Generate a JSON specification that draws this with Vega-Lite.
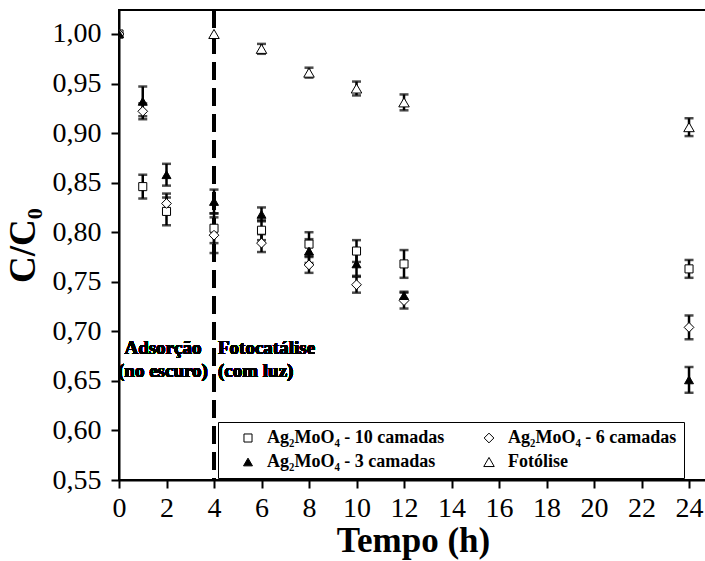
{
  "$schema": "https://vega.github.io/schema/vega-lite/v6.json",
  "autosize": "none",
  "width": 588,
  "height": 470,
  "padding": {"left": 119, "top": 10, "right": 0, "bottom": 81},
  "background": "white",
  "config": {
    "view": {"stroke": "black", "strokeWidth": 2},
    "font": "Liberation Serif",
    "axis": {
      "domainColor": "black", "domainWidth": 2, "tickColor": "black", "tickWidth": 2,
      "labelFont": "Liberation Serif", "labelColor": "black", "labelFontSize": 28,
      "titleFont": "Liberation Serif", "titleColor": "black", "titleFontSize": 35, "titleFontWeight": "bold",
      "grid": false
    }
  },
  "data": {
    "values": [
      {"t": 0, "v": 1.0, "err": 0, "s": "Ag₂MoO₄ - 10 camadas"},
      {"t": 1, "v": 0.846, "err": 0.012, "s": "Ag₂MoO₄ - 10 camadas"},
      {"t": 2, "v": 0.821, "err": 0.014, "s": "Ag₂MoO₄ - 10 camadas"},
      {"t": 4, "v": 0.804, "err": 0.015, "s": "Ag₂MoO₄ - 10 camadas"},
      {"t": 6, "v": 0.802, "err": 0.010, "s": "Ag₂MoO₄ - 10 camadas"},
      {"t": 8, "v": 0.788, "err": 0.012, "s": "Ag₂MoO₄ - 10 camadas"},
      {"t": 10, "v": 0.781, "err": 0.011, "s": "Ag₂MoO₄ - 10 camadas"},
      {"t": 12, "v": 0.768, "err": 0.014, "s": "Ag₂MoO₄ - 10 camadas"},
      {"t": 24, "v": 0.763, "err": 0.009, "s": "Ag₂MoO₄ - 10 camadas"},
      {"t": 0, "v": 1.0, "err": 0, "s": "Ag₂MoO₄ - 6 camadas"},
      {"t": 1, "v": 0.922, "err": 0.008, "s": "Ag₂MoO₄ - 6 camadas"},
      {"t": 2, "v": 0.829, "err": 0.010, "s": "Ag₂MoO₄ - 6 camadas"},
      {"t": 4, "v": 0.797, "err": 0.018, "s": "Ag₂MoO₄ - 6 camadas"},
      {"t": 6, "v": 0.789, "err": 0.009, "s": "Ag₂MoO₄ - 6 camadas"},
      {"t": 8, "v": 0.767, "err": 0.008, "s": "Ag₂MoO₄ - 6 camadas"},
      {"t": 10, "v": 0.747, "err": 0.008, "s": "Ag₂MoO₄ - 6 camadas"},
      {"t": 12, "v": 0.731, "err": 0.008, "s": "Ag₂MoO₄ - 6 camadas"},
      {"t": 24, "v": 0.704, "err": 0.012, "s": "Ag₂MoO₄ - 6 camadas"},
      {"t": 0, "v": 1.0, "err": 0, "s": "Ag₂MoO₄ - 3 camadas"},
      {"t": 1, "v": 0.932, "err": 0.015, "s": "Ag₂MoO₄ - 3 camadas"},
      {"t": 2, "v": 0.858, "err": 0.011, "s": "Ag₂MoO₄ - 3 camadas"},
      {"t": 4, "v": 0.831, "err": 0.012, "s": "Ag₂MoO₄ - 3 camadas"},
      {"t": 6, "v": 0.818, "err": 0.007, "s": "Ag₂MoO₄ - 3 camadas"},
      {"t": 8, "v": 0.781, "err": 0.012, "s": "Ag₂MoO₄ - 3 camadas"},
      {"t": 10, "v": 0.768, "err": 0.012, "s": "Ag₂MoO₄ - 3 camadas"},
      {"t": 12, "v": 0.736, "err": 0.004, "s": "Ag₂MoO₄ - 3 camadas"},
      {"t": 24, "v": 0.651, "err": 0.013, "s": "Ag₂MoO₄ - 3 camadas"},
      {"t": 4, "v": 1.0, "err": 0, "s": "Fotólise"},
      {"t": 6, "v": 0.985, "err": 0.005, "s": "Fotólise"},
      {"t": 8, "v": 0.961, "err": 0.005, "s": "Fotólise"},
      {"t": 10, "v": 0.945, "err": 0.007, "s": "Fotólise"},
      {"t": 12, "v": 0.931, "err": 0.008, "s": "Fotólise"},
      {"t": 24, "v": 0.906, "err": 0.009, "s": "Fotólise"}
    ]
  },
  "layer": [
    {
      "mark": {"type": "rule", "color": "black", "strokeWidth": 3, "strokeDash": [18, 8]},
      "encoding": {
        "x": {"datum": 4, "type": "quantitative", "title": "Tempo (h)",
          "scale": {"domain": [0, 24.757], "nice": false, "zero": false},
          "axis": {"orient": "bottom", "values": [0,1,2,3,4,5,6,7,8,9,10,11,12,13,14,15,16,17,18,19,20,21,22,23,24],
            "labelExpr": "datum.value % 2 === 0 ? datum.value : ''",
            "tickSize": {"condition": {"test": "datum.value % 2 === 0", "value": 8}, "value": 5},
            "labelPadding": 6, "title": "Tempo (h)", "titlePadding": 1, "labelFlush": false, "labelOverlap": false}}
      }
    },
    {
      "transform": [{"filter": "datum.err > 0"}],
      "mark": {"type": "errorbar", "clip": true, "ticks": {"size": 9, "thickness": 2.5, "color": "black"}, "rule": {"strokeWidth": 2.5, "color": "black"}},
      "encoding": {
        "x": {"field": "t", "type": "quantitative", "title": "Tempo (h)"},
        "y": {"field": "v", "type": "quantitative", "title": "C/C₀"},
        "yError": {"field": "err"}
      }
    },
    {
      "mark": {"type": "point", "filled": false, "clip": true, "stroke": "black", "strokeWidth": 1, "opacity": 1},
      "encoding": {
        "x": {"field": "t", "type": "quantitative", "title": "Tempo (h)"},
        "y": {"field": "v", "type": "quantitative", "title": "C/C₀",
          "scale": {"domain": [0.55, 1.0242], "nice": false, "zero": false},
          "axis": {"values": [0.55,0.575,0.6,0.625,0.65,0.675,0.7,0.725,0.75,0.775,0.8,0.825,0.85,0.875,0.9,0.925,0.95,0.975,1.0],
            "labelExpr": "round(datum.value*1000) % 50 === 0 ? replace(format(datum.value, '.2f'), '.', ',') : ''",
            "tickSize": {"condition": {"test": "round(datum.value*1000) % 50 === 0", "value": 8}, "value": 5},
            "labelPadding": 10, "title": "C/C₀", "titleFontSize": 37, "titlePadding": 10, "labelOverlap": false}},
        "shape": {"field": "s", "type": "nominal",
          "scale": {"domain": ["Ag₂MoO₄ - 10 camadas", "Ag₂MoO₄ - 3 camadas", "Ag₂MoO₄ - 6 camadas", "Fotólise"],
            "range": ["square", "triangle-up", "diamond", "triangle-up"]},
          "legend": {"orient": "none", "legendX": 99, "legendY": 412, "columns": 2, "title": null,
            "strokeColor": "black", "padding": 7, "fillColor": "white",
            "labelFont": "Liberation Serif", "labelFontWeight": "bold", "labelFontSize": 18, "labelColor": "black", "labelLimit": 300,
            "symbolStrokeColor": "black", "symbolStrokeWidth": 1, "columnPadding": 21, "rowPadding": 6, "labelOffset": 10, "symbolOffset": 14,
            "encode": {
              "legend": {"update": {"stroke": {"value": "black"}, "strokeWidth": {"value": 2.5}}},
              "symbols": {"update": {"stroke": {"value": "black"}, "strokeWidth": {"value": 1}}}
            }}},
        "fill": {"field": "s", "type": "nominal",
          "scale": {"domain": ["Ag₂MoO₄ - 10 camadas", "Ag₂MoO₄ - 3 camadas", "Ag₂MoO₄ - 6 camadas", "Fotólise"],
            "range": ["white", "black", "white", "white"]}},
        "size": {"field": "s", "type": "nominal",
          "scale": {"domain": ["Ag₂MoO₄ - 10 camadas", "Ag₂MoO₄ - 3 camadas", "Ag₂MoO₄ - 6 camadas", "Fotólise"],
            "range": [65, 110, 85, 110]}}
      }
    },
    {
      "mark": {"type": "text", "font": "Liberation Serif", "fontWeight": "bold", "fontSize": 19, "align": "center", "baseline": "alphabetic", "color": "black"},
      "encoding": {"x": {"datum": 1.85, "type": "quantitative"}, "y": {"datum": 0.677, "type": "quantitative"}, "text": {"value": "Adsorção"}}
    },
    {
      "mark": {"type": "text", "font": "Liberation Serif", "fontWeight": "bold", "fontSize": 19, "align": "center", "baseline": "alphabetic", "color": "black"},
      "encoding": {"x": {"datum": 1.85, "type": "quantitative"}, "y": {"datum": 0.654, "type": "quantitative"}, "text": {"value": "(no escuro)"}}
    },
    {
      "mark": {"type": "text", "font": "Liberation Serif", "fontWeight": "bold", "fontSize": 19, "align": "left", "baseline": "alphabetic", "dx": 4, "color": "black"},
      "encoding": {"x": {"datum": 4, "type": "quantitative"}, "y": {"datum": 0.677, "type": "quantitative"}, "text": {"value": "Fotocatálise"}}
    },
    {
      "mark": {"type": "text", "font": "Liberation Serif", "fontWeight": "bold", "fontSize": 19, "align": "left", "baseline": "alphabetic", "dx": 4, "color": "black"},
      "encoding": {"x": {"datum": 4, "type": "quantitative"}, "y": {"datum": 0.654, "type": "quantitative"}, "text": {"value": "(com luz)"}}
    }
  ]
}
